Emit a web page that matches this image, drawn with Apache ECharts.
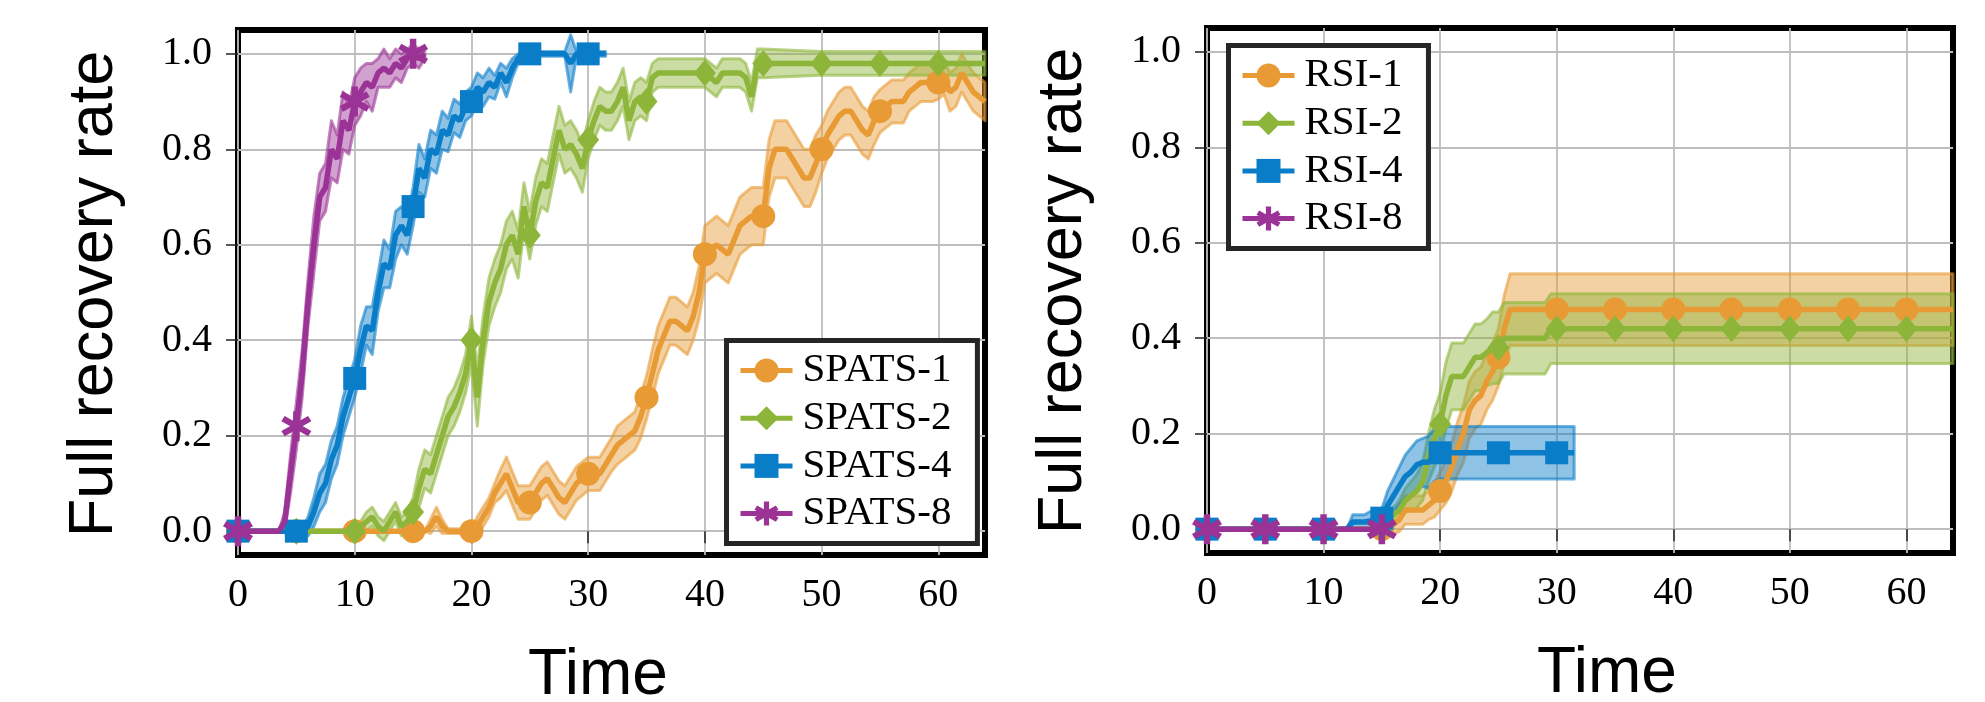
<!DOCTYPE html>
<html><head><meta charset="utf-8">
<script src="https://cdn.jsdelivr.net/npm/echarts@6/dist/echarts.min.js"></script>
<style>html,body{margin:0;padding:0;background:#fff;} #c{width:1985px;height:702px;}</style>
</head><body><div id="c"></div>
<script>
// time grid helper (x sample positions, step 0.5)
function grid(a, b) { const r = []; for (let t = a; t <= b + 1e-9; t += 0.5) r.push(Math.round(t * 2) / 2); return r; }

const xTicks = [0, 10, 20, 30, 40, 50, 60];
const yTicks = [0, 0.2, 0.4, 0.6, 0.8, 1.0];
const leftNames = ['SPATS-1', 'SPATS-2', 'SPATS-4', 'SPATS-8'];
const rightNames = ['RSI-1', 'RSI-2', 'RSI-4', 'RSI-8'];

// ---------- Left panel ----------
const SPATS1_T = [0, 5, 10, 15, 16, 16.5, 17, 17.5, 18].concat(grid(20, 64));
const SPATS1_V = [0, 0, 0, 0, 0, 0.01, 0.03, 0.01, 0,
  0, 0.01, 0.03, 0.05, 0.08, 0.10, 0.12, 0.09, 0.06, 0.06,
  0.06, 0.08, 0.10, 0.11, 0.09, 0.07, 0.06, 0.08, 0.10, 0.11,
  0.12, 0.12, 0.12, 0.14, 0.16, 0.18, 0.19, 0.20, 0.21, 0.24,
  0.28, 0.33, 0.38, 0.41, 0.44, 0.44, 0.43, 0.42, 0.45, 0.50,
  0.58, 0.59, 0.60, 0.59, 0.58, 0.61, 0.64, 0.65, 0.66, 0.66,
  0.66, 0.76, 0.80, 0.80, 0.80, 0.78, 0.76, 0.74, 0.74, 0.77,
  0.80, 0.83, 0.85, 0.87, 0.88, 0.88, 0.86, 0.84, 0.83, 0.86,
  0.88, 0.89, 0.90, 0.90, 0.90, 0.92, 0.93, 0.94, 0.94, 0.94,
  0.94, 0.95, 0.92, 0.93, 0.96, 0.94, 0.92, 0.91, 0.90];
const SPATS1_E = [0, 0, 0, 0, 0, 0.015, 0.02, 0.015, 0.005,
  0.005, 0.02, 0.02, 0.02, 0.02, 0.03, 0.035, 0.035, 0.035, 0.035,
  0.035, 0.035, 0.035, 0.035, 0.035, 0.035, 0.035, 0.035, 0.035, 0.035,
  0.035, 0.035, 0.035, 0.035, 0.035, 0.04, 0.04, 0.04, 0.04, 0.045,
  0.045, 0.05, 0.05, 0.05, 0.05, 0.05, 0.05, 0.05, 0.05, 0.055,
  0.06, 0.06, 0.06, 0.06, 0.06, 0.06, 0.06, 0.06, 0.06, 0.06,
  0.06, 0.06, 0.06, 0.06, 0.06, 0.06, 0.06, 0.06, 0.06, 0.06,
  0.05, 0.05, 0.05, 0.05, 0.05, 0.05, 0.05, 0.05, 0.05, 0.05,
  0.045, 0.045, 0.045, 0.045, 0.045, 0.04, 0.04, 0.04, 0.04, 0.04,
  0.035, 0.035, 0.04, 0.04, 0.04, 0.04, 0.04, 0.04, 0.04];

const SPATS2_T = [0, 5].concat(grid(10, 45)).concat([50, 55, 60, 64]);
const SPATS2_V = [0, 0,
  0, 0.01, 0.02, 0.03, 0.01, 0.0, 0.02, 0.04, 0.01, 0.02,
  0.04, 0.09, 0.13, 0.12, 0.16, 0.20, 0.24, 0.26, 0.29, 0.33,
  0.40, 0.28, 0.40, 0.48, 0.52, 0.55, 0.60, 0.62, 0.58, 0.68,
  0.62, 0.69, 0.73, 0.72, 0.78, 0.84, 0.80, 0.81, 0.79, 0.76,
  0.82, 0.86, 0.89, 0.88, 0.88, 0.90, 0.93, 0.86, 0.90, 0.91,
  0.90, 0.95, 0.96, 0.96, 0.96, 0.96, 0.96, 0.96, 0.96, 0.96,
  0.96, 0.95, 0.94, 0.96, 0.96, 0.96, 0.96, 0.95, 0.91, 0.98,
  0.98,
  0.98, 0.98, 0.98, 0.98];
const SPATS2_E = [0, 0,
  0, 0.01, 0.02, 0.02, 0.02, 0.02, 0.02, 0.02, 0.02, 0.02,
  0.03, 0.04, 0.04, 0.04, 0.04, 0.04, 0.04, 0.04, 0.04, 0.04,
  0.05, 0.06, 0.05, 0.05, 0.05, 0.05, 0.05, 0.05, 0.05, 0.05,
  0.05, 0.05, 0.05, 0.05, 0.05, 0.05, 0.05, 0.05, 0.05, 0.05,
  0.04, 0.04, 0.04, 0.04, 0.04, 0.04, 0.04, 0.04, 0.04, 0.04,
  0.04, 0.03, 0.03, 0.03, 0.03, 0.03, 0.03, 0.03, 0.03, 0.03,
  0.03, 0.03, 0.03, 0.03, 0.03, 0.03, 0.03, 0.03, 0.03, 0.03,
  0.03,
  0.025, 0.025, 0.025, 0.025];

const SPATS4_T = [0].concat(grid(5, 25)).concat([26, 27, 28, 28.5, 29, 30, 31, 31.5]);
const SPATS4_V = [0,
  0, 0, 0.01, 0.04, 0.08, 0.10, 0.15, 0.18, 0.24, 0.28,
  0.32, 0.38, 0.43, 0.42, 0.50, 0.56, 0.55, 0.62, 0.64, 0.62,
  0.68, 0.76, 0.74, 0.80, 0.79, 0.84, 0.83, 0.87, 0.86, 0.89,
  0.90, 0.93, 0.92, 0.94, 0.93, 0.96, 0.94, 0.97, 0.99, 1.0,
  1.0,
  1.0, 1.0, 1.0, 0.98, 1.0, 1.0, 1.0, 1.0];
const SPATS4_E = [0,
  0, 0.005, 0.02, 0.03, 0.04, 0.04, 0.04, 0.04, 0.04, 0.04,
  0.04, 0.05, 0.04, 0.05, 0.04, 0.05, 0.04, 0.05, 0.04, 0.04,
  0.04, 0.05, 0.04, 0.04, 0.04, 0.04, 0.035, 0.035, 0.035, 0.03,
  0.03, 0.03, 0.03, 0.03, 0.025, 0.02, 0.03, 0.02, 0.01, 0.005,
  0.005,
  0.005, 0.005, 0.005, 0.06, 0.005, 0.005, 0.005, 0.005];

const SPATS8_T = [0].concat(grid(3.5, 16));
const SPATS8_V = [0, 0, 0.02, 0.12, 0.22, 0.33, 0.48, 0.60, 0.70, 0.72, 0.80, 0.78, 0.86, 0.84,
  0.90, 0.92, 0.94, 0.93, 0.96, 0.97, 0.96, 0.98, 0.97, 0.99, 1.0, 0.99, 1.0];
const SPATS8_E = [0, 0, 0.02, 0.04, 0.05, 0.05, 0.05, 0.06, 0.05, 0.05, 0.06, 0.05, 0.06, 0.05,
  0.05, 0.05, 0.04, 0.05, 0.03, 0.04, 0.03, 0.03, 0.03, 0.02, 0.02, 0.02, 0.01];

// ---------- Right panel ----------
const RSI1_T = [0, 5, 10, 15, 15.5, 16, 16.5, 17, 17.5, 18, 18.5, 19, 19.5, 20, 20.5, 21, 21.5, 22, 22.5, 23, 23.5, 24, 24.5, 25, 25.5, 26, 30, 35, 40, 45, 50, 55, 60, 64];
const RSI1_V = [0, 0, 0, 0, 0.005, 0.01, 0.02, 0.04, 0.04, 0.04, 0.04, 0.05, 0.06, 0.08, 0.10, 0.13, 0.17, 0.20, 0.25, 0.27, 0.28, 0.31, 0.33, 0.36, 0.42, 0.46, 0.46, 0.46, 0.46, 0.46, 0.46, 0.46, 0.46, 0.46];
const RSI1_E = [0, 0, 0, 0, 0.01, 0.02, 0.025, 0.03, 0.03, 0.03, 0.03, 0.03, 0.035, 0.04, 0.045, 0.05, 0.055, 0.06, 0.06, 0.06, 0.06, 0.06, 0.06, 0.06, 0.07, 0.075, 0.075, 0.075, 0.075, 0.075, 0.075, 0.075, 0.075, 0.075];

const RSI2_T = [0, 5, 10, 15, 15.5, 16, 16.5, 17, 17.5, 18, 18.5, 19, 19.5, 20, 20.5, 21, 21.5, 22, 22.5, 23, 23.5, 24, 24.5, 25, 25.5, 26, 29, 29.5, 30, 35, 40, 45, 50, 55, 60, 64];
const RSI2_V = [0, 0, 0, 0, 0.02, 0.03, 0.04, 0.06, 0.07, 0.08, 0.10, 0.15, 0.19, 0.22, 0.28, 0.32, 0.32, 0.32, 0.34, 0.36, 0.36, 0.37, 0.38, 0.38, 0.40, 0.40, 0.40, 0.42, 0.42, 0.42, 0.42, 0.42, 0.42, 0.42, 0.42, 0.42];
const RSI2_E = [0, 0, 0, 0, 0.01, 0.015, 0.02, 0.025, 0.03, 0.035, 0.04, 0.05, 0.06, 0.065, 0.07, 0.07, 0.07, 0.07, 0.07, 0.07, 0.07, 0.07, 0.075, 0.075, 0.075, 0.075, 0.075, 0.073, 0.073, 0.073, 0.073, 0.073, 0.073, 0.073, 0.073, 0.073];

const RSI4_T = [0, 5, 10, 12, 12.5, 13, 13.5, 14, 14.5, 15, 15.5, 16, 16.5, 17, 17.5, 18, 18.5, 19, 19.5, 20, 25, 30, 31.5];
const RSI4_V = [0, 0, 0, 0, 0.015, 0.015, 0.015, 0.017, 0.02, 0.023, 0.05, 0.07, 0.09, 0.11, 0.12, 0.135, 0.14, 0.14, 0.155, 0.16, 0.16, 0.16, 0.16];
const RSI4_E = [0, 0, 0, 0, 0.015, 0.015, 0.015, 0.02, 0.02, 0.02, 0.03, 0.035, 0.04, 0.045, 0.05, 0.05, 0.05, 0.055, 0.055, 0.055, 0.055, 0.055, 0.055];

const RSI8_T = [0, 5, 10, 15];
const RSI8_V = [0, 0, 0, 0];
const RSI8_E = [0, 0, 0, 0];

// ---------- styles ----------
const COL = ['#E89B35', '#8DB53A', '#0A7DC9', '#9B3396'];
function rgba(hex, a) {
  const n = parseInt(hex.slice(1), 16);
  return 'rgba(' + (n >> 16 & 255) + ',' + (n >> 8 & 255) + ',' + (n & 255) + ',' + a + ')';
}
function asteriskPath(r, w) {
  let s = 'path://';
  [90, 30, 150].forEach(function (deg) {
    const a = deg * Math.PI / 180, c = Math.cos(a), sn = Math.sin(a);
    const pts = [[r, w], [-r, w], [-r, -w], [r, -w]].map(function (p) {
      return (p[0] * c - p[1] * sn).toFixed(3) + ',' + (p[0] * sn + p[1] * c).toFixed(3);
    });
    s += 'M' + pts[0] + ' L' + pts[1] + ' L' + pts[2] + ' L' + pts[3] + ' Z ';
  });
  return s;
}
const SYM = ['circle', 'diamond', 'rect', asteriskPath(10, 2.1)];
const SYMSIZE = [24, [22, 27], 23, 30];

const series = [];
const bands = [];
function addSeries(name, T, V, E, gi, k) {
  const color = COL[k];
  bands.push({
    type: 'custom', name: name + ' band', xAxisIndex: gi, yAxisIndex: gi, z: 1,
    data: T.map(function (t, i) { return [t, V[i] - E[i], V[i] + E[i]]; }),
    encode: { x: 0, y: [1, 2] },
    clip: false, silent: true,
    renderItem: function (params, api) {
      if (params.dataIndex !== 0) return null;
      const up = [], lo = [];
      for (let i = 0; i < T.length; i++) {
        up.push(api.coord([T[i], V[i] + E[i]]));
        lo.push(api.coord([T[i], V[i] - E[i]]));
      }
      return {
        type: 'polygon', shape: { points: up.concat(lo.reverse()) },
        style: { fill: rgba(color, 0.46), stroke: rgba(color, 0.6), lineWidth: 3, lineJoin: 'round' }
      };
    }
  });
  const sz = SYMSIZE[k];
  series.push({
    type: 'line', name: name, xAxisIndex: gi, yAxisIndex: gi, z: 2 + k,
    data: T.map(function (t, i) { return [t, V[i]]; }),
    symbol: SYM[k],
    symbolSize: function (val) { const q = val[0] / 5; return Math.abs(q - Math.round(q)) < 1e-6 ? sz : 0; },
    showAllSymbol: true, clip: false,
    lineStyle: { color: color, width: 5.5 },
    itemStyle: { color: color, opacity: 1 },
    emphasis: { disabled: true }
  });
}
addSeries('SPATS-1', SPATS1_T, SPATS1_V, SPATS1_E, 0, 0);
addSeries('SPATS-2', SPATS2_T, SPATS2_V, SPATS2_E, 0, 1);
addSeries('SPATS-4', SPATS4_T, SPATS4_V, SPATS4_E, 0, 2);
addSeries('SPATS-8', SPATS8_T, SPATS8_V, SPATS8_E, 0, 3);
addSeries('RSI-1', RSI1_T, RSI1_V, RSI1_E, 1, 0);
addSeries('RSI-2', RSI2_T, RSI2_V, RSI2_E, 1, 1);
addSeries('RSI-4', RSI4_T, RSI4_V, RSI4_E, 1, 2);
addSeries('RSI-8', RSI8_T, RSI8_V, RSI8_E, 1, 3);

const SERIF = '"Liberation Serif", "Times New Roman", serif';
const SANS = '"Liberation Sans", Arial, sans-serif';
function xAxis(gi) {
  return {
    type: 'value', gridIndex: gi, min: 0, max: 64,
    axisLine: { show: false },
    axisTick: { show: true, length: 12, lineStyle: { color: '#222', width: 1.5 }, customValues: xTicks },
    axisLabel: { customValues: xTicks, fontFamily: SERIF, fontSize: 40, color: '#000', margin: 20 },
    splitLine: { show: true, lineStyle: { color: '#bdbdbd', width: 1.8 } }
  };
}
function yAxis(gi) {
  return {
    type: 'value', gridIndex: gi, min: -0.05, max: 1.05,
    axisLine: { show: false },
    axisTick: { show: true, length: 12, lineStyle: { color: '#222', width: 1.5 }, customValues: yTicks },
    axisLabel: { customValues: yTicks, fontFamily: SERIF, fontSize: 40, color: '#000', margin: 26,
      formatter: function (v) { return v.toFixed(1); } },
    splitLine: { show: true, lineStyle: { color: '#bdbdbd', width: 1.8 } }
  };
}
function legend(names, left, top) {
  return {
    data: names, orient: 'vertical', left: left, top: top,
    itemWidth: 52, itemHeight: 30, itemGap: 6.7,
    padding: [9.5, 26, 9.5, 11.5],
    backgroundColor: '#fff', borderColor: '#262626', borderWidth: 5, borderRadius: 0,
    selectedMode: false,
    lineStyle: { width: 5 },
    textStyle: { fontFamily: SERIF, fontSize: 41, color: '#000', lineHeight: 40, padding: [0, 0, 0, 5] }
  };
}

const chart = echarts.init(document.getElementById('c'), null, { renderer: 'canvas' });
chart.setOption({
  animation: false,
  backgroundColor: '#fff',
  grid: [
    { left: 238, top: 30, width: 747, height: 525, show: true, borderColor: '#000', borderWidth: 6, containLabel: false },
    { left: 1207, top: 28, width: 746, height: 525, show: true, borderColor: '#000', borderWidth: 6, containLabel: false }
  ],
  xAxis: [xAxis(0), xAxis(1)],
  yAxis: [yAxis(0), yAxis(1)],
  legend: [legend(leftNames, 726.5, 340.5), legend(rightNames, 1228.5, 45.5)],
  series: bands.concat(series),
  graphic: [
    { type: 'text', x: 95, y: 294, rotation: Math.PI / 2, style: { text: 'Full recovery rate', fontFamily: SANS, fontSize: 63, fill: '#000', align: 'center', verticalAlign: 'middle' } },
    { type: 'text', x: 1064, y: 291, rotation: Math.PI / 2, style: { text: 'Full recovery rate', fontFamily: SANS, fontSize: 63, fill: '#000', align: 'center', verticalAlign: 'middle' } },
    { type: 'text', x: 598, y: 676, style: { text: 'Time', fontFamily: SANS, fontSize: 64, fill: '#000', align: 'center', verticalAlign: 'middle' } },
    { type: 'text', x: 1607, y: 674, style: { text: 'Time', fontFamily: SANS, fontSize: 64, fill: '#000', align: 'center', verticalAlign: 'middle' } }
  ]
});
</script>
</body></html>
